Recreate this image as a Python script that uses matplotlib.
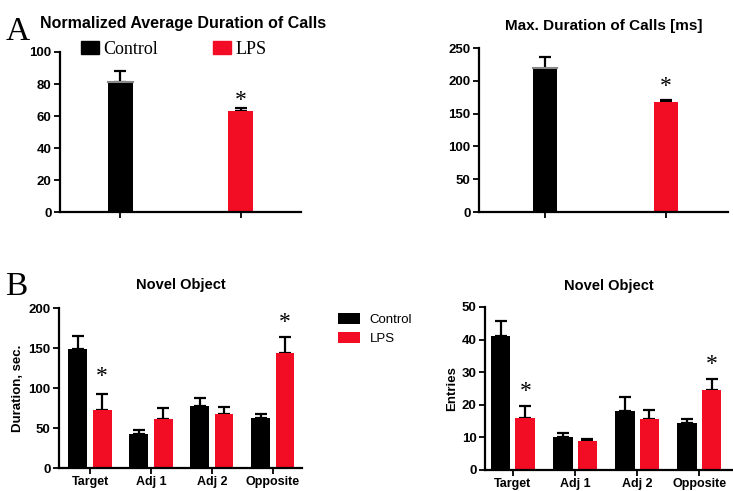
#%% import

import numpy as np
import matplotlib.pyplot as plt
from matplotlib.patches import Rectangle


#%% data

ctrl_color = '#000000'
lps_color = '#f20d25'

avg_dur = [81, 63]
avg_dur_err = [7, 2]

max_dur = [218, 168]
max_dur_err = [19, 2]

zones = ['Target', 'Adj 1', 'Adj 2', 'Opposite']
dur_ctrl = [149, 43, 77, 63]
dur_ctrl_err = [16, 5, 10, 5]
dur_lps = [72, 61, 67, 144]
dur_lps_err = [21, 14, 9, 20]

ent_ctrl = [41, 10.2, 18.1, 14.3]
ent_ctrl_err = [4.6, 1.0, 4.2, 1.4]
ent_lps = [16, 8.8, 15.6, 24.4]
ent_lps_err = [3.5, 0.7, 2.7, 3.5]


#%% style

plt.rcParams['font.family'] = ['Liberation Sans', 'DejaVu Sans']
plt.rcParams['font.weight'] = 'bold'
plt.rcParams['axes.linewidth'] = 1.6
plt.rcParams['xtick.major.width'] = 1.3
plt.rcParams['ytick.major.width'] = 1.3
plt.rcParams['xtick.major.size'] = 4
plt.rcParams['ytick.major.size'] = 4


def style_ax(ax):
    ax.spines['top'].set_visible(False)
    ax.spines['right'].set_visible(False)
    ax.tick_params(axis='x', labelsize=9, pad=2)
    ax.tick_params(axis='y', labelsize=9.5, pad=2)
    for lab in ax.get_yticklabels() + ax.get_xticklabels():
        lab.set_fontweight('bold')


def err(ax, x, y, e, color='black'):
    ax.errorbar(x, y, yerr=[np.zeros(len(e)), e], fmt='none', ecolor=color,
                elinewidth=1.6, capsize=4, capthick=1.6, zorder=1)


def star(ax, x, y):
    ax.text(x, y, '*', ha='center', va='center', fontsize=17,
            family='Liberation Serif', fontweight='normal')


fig = plt.figure(figsize=(7.33, 4.91), dpi=100)

#%% panel A left

ax1 = fig.add_axes([0.0819, 0.5682, 0.3288, 0.3259])
pos = np.arange(2)
err(ax1, pos, avg_dur, avg_dur_err)
ax1.bar(pos, avg_dur, width=0.21, color=[ctrl_color, lps_color], zorder=2)
ax1.plot([-0.105, 0.105], [81.5, 81.5], color='#888888', lw=1.5, zorder=3)
ax1.set_xlim(-0.5, 1.5)
ax1.set_ylim(0, 100)
ax1.set_yticks([0, 20, 40, 60, 80, 100])
ax1.set_xticks(pos)
ax1.set_xticklabels(['', ''])
star(ax1, 1, 70)
style_ax(ax1)

fig.text(0.007, 0.918, 'A', fontsize=24, family='Liberation Serif', fontweight='normal')
fig.text(0.055, 0.942, 'Normalized Average Duration of Calls', fontsize=11.5, fontweight='bold')
fig.patches.append(Rectangle((81 / 733, 1 - 54 / 491), 18 / 733, 13 / 491,
                             transform=fig.transFigure, color=ctrl_color))
fig.text(103 / 733, 1 - 54 / 491, 'Control', fontsize=13, family='Liberation Serif',
         fontweight='normal')
fig.patches.append(Rectangle((213 / 733, 1 - 54 / 491), 18 / 733, 13 / 491,
                             transform=fig.transFigure, color=lps_color))
fig.text(236 / 733, 1 - 54 / 491, 'LPS', fontsize=13, family='Liberation Serif',
         fontweight='normal')

#%% panel A right

ax2 = fig.add_axes([0.6535, 0.5682, 0.3397, 0.334])
err(ax2, pos, max_dur, max_dur_err)
ax2.bar(pos, max_dur, width=0.2, color=[ctrl_color, lps_color], zorder=2)
ax2.plot([-0.1, 0.1], [219, 219], color='#888888', lw=1.5, zorder=3)
ax2.set_xlim(-0.545, 1.51)
ax2.set_ylim(0, 250)
ax2.set_yticks([0, 50, 100, 150, 200, 250])
ax2.set_xticks(pos)
ax2.set_xticklabels(['', ''])
star(ax2, 1, 192)
ax2.set_title('Max. Duration of Calls [ms]', fontsize=11, fontweight='bold', pad=13)
style_ax(ax2)

#%% panel B left

gpos = np.arange(len(zones))
ax3 = fig.add_axes([0.0805, 0.0468, 0.3315, 0.3259])
err(ax3, gpos - 0.2, dur_ctrl, dur_ctrl_err)
err(ax3, gpos + 0.2, dur_lps, dur_lps_err)
ax3.bar(gpos - 0.2, dur_ctrl, width=0.31, color=ctrl_color, label='Control', zorder=2)
ax3.bar(gpos + 0.2, dur_lps, width=0.31, color=lps_color, label='LPS', zorder=2)
ax3.set_xlim(-0.51, 3.48)
ax3.set_ylim(0, 200)
ax3.set_yticks([0, 50, 100, 150, 200])
ax3.set_xticks(gpos)
ax3.set_xticklabels(zones)
ax3.set_ylabel('Duration, sec.', fontsize=9.5, fontweight='bold', labelpad=3)
star(ax3, 0.2, dur_lps[0] + dur_lps_err[0] + 21)
star(ax3, 3.2, dur_lps[3] + dur_lps_err[3] + 18)
ax3.set_title('Novel Object', fontsize=10.5, fontweight='bold', pad=14)
style_ax(ax3)

fig.text(0.007, 0.4, 'B', fontsize=24, family='Liberation Serif', fontweight='normal')
fig.legend(*ax3.get_legend_handles_labels(), loc='upper left',
           bbox_to_anchor=(326 / 733, 1 - 301 / 491), frameon=False,
           prop={'size': 9.5, 'weight': 'normal'}, handlelength=1.7,
           handleheight=0.95, labelspacing=0.45, handletextpad=0.7)

#%% panel B right

ax4 = fig.add_axes([0.6617, 0.0428, 0.337, 0.332])
err(ax4, gpos - 0.2, ent_ctrl, ent_ctrl_err)
err(ax4, gpos + 0.2, ent_lps, ent_lps_err)
ax4.bar(gpos - 0.2, ent_ctrl, width=0.32, color=ctrl_color, zorder=2)
ax4.bar(gpos + 0.2, ent_lps, width=0.32, color=lps_color, zorder=2)
ax4.set_xlim(-0.45, 3.53)
ax4.set_ylim(0, 50)
ax4.set_yticks([0, 10, 20, 30, 40, 50])
ax4.set_xticks(gpos)
ax4.set_xticklabels(zones)
ax4.set_ylabel('Entries', fontsize=9.5, fontweight='bold', labelpad=3)
star(ax4, 0.2, ent_lps[0] + ent_lps_err[0] + 4.5)
star(ax4, 3.2, ent_lps[3] + ent_lps_err[3] + 4.5)
ax4.set_title('Novel Object', fontsize=10.5, fontweight='bold', pad=12)
style_ax(ax4)

plt.savefig('out.png', dpi=100)
